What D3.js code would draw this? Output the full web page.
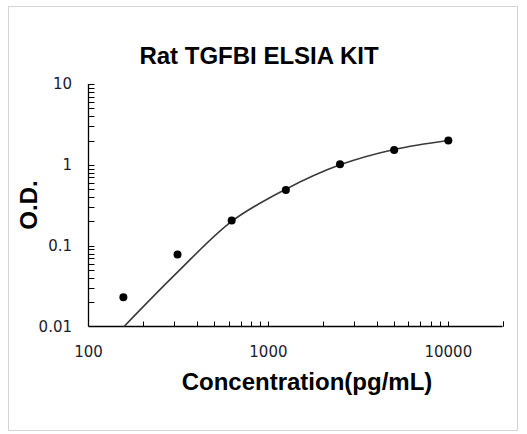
<!DOCTYPE html>
<html>
<head>
<meta charset="utf-8">
<script src="https://cdn.jsdelivr.net/npm/d3@7"></script>
<style>
  body { margin: 0; background: #fff; }
  svg { display: block; }
</style>
</head>
<body>
<div id="chart"></div>
<script>
// data
var concentrations = [156.25, 312.5, 625, 1250, 2500, 5000, 10000];
var odValues = [0.023, 0.078, 0.205, 0.49, 1.02, 1.53, 2.0];
var fitValues = [0.0098, 0.047, 0.2, 0.5, 1.0, 1.55, 2.0];
var xTickLabels = [100, 1000, 10000];
var yTickLabels = [0.01, 0.1, 1, 10];

var width = 527, height = 434;

var svg = d3.select("#chart")
    .append("svg")
    .attr("width", width)
    .attr("height", height);

// outer frame
svg.append("rect")
    .attr("x", 8.5).attr("y", 6.5)
    .attr("width", 509).attr("height", 424)
    .attr("fill", "#fff")
    .attr("stroke", "#d4d4d4");

var x = d3.scaleLog().domain([100, 20000]).range([88.5, 502.5]);
var y = d3.scaleLog().domain([0.01, 10]).range([326.5, 84]);

// minor + major ticks
var xTicks = [];
[100, 1000, 10000].forEach(function(d) {
    for (var k = 1; k <= 9; k++) { if (d * k <= 20000) xTicks.push(d * k); }
});
xTicks.push(20000);
var yTicks = [];
[0.01, 0.1, 1].forEach(function(d) {
    for (var k = 1; k <= 9; k++) yTicks.push(d * k);
});
yTicks.push(10);

var g = svg.append("g");

g.selectAll(".xt")
    .data(xTicks.filter(function(d) { return d > 100; }))
    .enter().append("line")
    .attr("x1", function(d) { return Math.round(x(d)) + 0.5; })
    .attr("x2", function(d) { return Math.round(x(d)) + 0.5; })
    .attr("y1", y(0.01)).attr("y2", y(0.01) - 5)
    .attr("stroke", "#000");

g.selectAll(".yt")
    .data(yTicks.filter(function(d) { return d > 0.01; }))
    .enter().append("line")
    .attr("x1", x(100)).attr("x2", x(100) + 6)
    .attr("y1", function(d) { return Math.round(y(d)) + 0.5; })
    .attr("y2", function(d) { return Math.round(y(d)) + 0.5; })
    .attr("stroke", "#000");

// axis lines
g.append("line")
    .attr("x1", x(100)).attr("x2", x(20000))
    .attr("y1", y(0.01)).attr("y2", y(0.01))
    .attr("stroke", "#000").attr("stroke-width", 1.3);
g.append("line")
    .attr("x1", x(100)).attr("x2", x(100))
    .attr("y1", y(0.01)).attr("y2", y(10))
    .attr("stroke", "#000").attr("stroke-width", 1.3);

// tick labels
g.selectAll(".xl")
    .data(xTickLabels)
    .enter().append("text")
    .attr("x", function(d) { return x(d); })
    .attr("y", 357)
    .attr("text-anchor", "middle")
    .style("font", "15px 'DejaVu Sans'")
    .attr("fill", "#1c1c2c")
    .text(function(d) { return d; });

g.selectAll(".yl")
    .data(yTickLabels)
    .enter().append("text")
    .attr("x", 72)
    .attr("y", function(d) { return y(d) + 5; })
    .attr("text-anchor", "end")
    .style("font", "15px 'DejaVu Sans'")
    .attr("fill", "#1c1c2c")
    .text(function(d) { return d; });

// fit curve, clipped to the plot area
svg.append("clipPath").attr("id", "plotclip")
    .append("rect")
    .attr("x", x(100)).attr("y", y(10))
    .attr("width", x(20000) - x(100)).attr("height", y(0.01) - y(10));

var fitLine = d3.line()
    .x(function(d, i) { return x(concentrations[i]); })
    .y(function(d) { return y(d); })
    .curve(d3.curveCatmullRom.alpha(0.5));

svg.append("path")
    .attr("clip-path", "url(#plotclip)")
    .attr("d", fitLine(fitValues))
    .attr("fill", "none")
    .attr("stroke", "#3a3a3a")
    .attr("stroke-width", 1.6);

// points
svg.selectAll(".pt")
    .data(odValues)
    .enter().append("circle")
    .attr("cx", function(d, i) { return x(concentrations[i]); })
    .attr("cy", function(d) { return y(d); })
    .attr("r", 4)
    .attr("fill", "#000");

// titles
svg.append("text")
    .attr("x", 259).attr("y", 64)
    .attr("text-anchor", "middle")
    .style("font", "bold 24px 'Liberation Sans', Arial, sans-serif")
    .text("Rat TGFBI ELSIA KIT");

svg.append("text")
    .attr("x", 307).attr("y", 390)
    .attr("text-anchor", "middle")
    .style("font", "bold 24px 'Liberation Sans', Arial, sans-serif")
    .text("Concentration(pg/mL)");

svg.append("text")
    .attr("transform", "translate(37,205) rotate(-90)")
    .attr("text-anchor", "middle")
    .style("font", "bold 24px 'Liberation Sans', Arial, sans-serif")
    .text("O.D.");
</script>
</body>
</html>
